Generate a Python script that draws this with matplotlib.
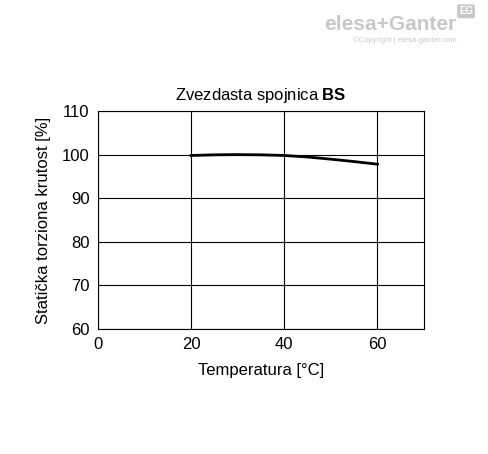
import matplotlib
matplotlib.use("Agg")
import matplotlib.pyplot as plt
import numpy as np

temps = [20, 25, 30, 35, 40, 45, 50, 55, 60]
stiffness = [99.8, 99.95, 100.0, 99.95, 99.8, 99.45, 98.95, 98.4, 97.8]
xticks = [0, 20, 40, 60]
yticks = [60, 70, 80, 90, 100, 110]

plt.rcParams['font.family'] = ['Liberation Sans', 'DejaVu Sans']
plt.rcParams['mathtext.fontset'] = 'custom'
plt.rcParams['mathtext.rm'] = 'Liberation Sans'
plt.rcParams['mathtext.bf'] = 'Liberation Sans:bold'
fig = plt.figure(figsize=(4.88, 4.54), dpi=100)
ax = fig.add_axes([0.2008, 0.2753, 0.668, 0.4802])
ax.plot(temps, stiffness, color='black', lw=2)
ax.set_xlim(0, 70)
ax.set_ylim(60, 110)
ax.set_xticks(xticks)
ax.set_yticks(yticks)
ax.grid(True, color='black', lw=0.8)
for s in ax.spines.values():
    s.set_linewidth(0.8)
ax.tick_params(length=0, labelsize=12, pad=6)
ax.set_xlabel('Temperatura [°C]', fontsize=12, labelpad=8)
ax.set_ylabel('Statička torziona krutost [%]', fontsize=12, labelpad=8)
ax.set_title('Zvezdasta spojnica $\\mathbf{BS}$', fontsize=12, pad=8)
fig.text(0.935, 0.945, 'elesa+Ganter', color='#c8c8c8', fontsize=15, fontweight='bold', ha='right', va='center')
fig.text(0.935, 0.912, '©Copyright | elesa-ganter.com', color='#c8c8c8', fontsize=5.5, ha='right', va='center')
fig.text(0.955, 0.975, 'EG', color='white', fontsize=7, fontweight='bold', ha='center', va='center',
         bbox=dict(boxstyle='round,pad=0.2', fc='#c8c8c8', ec='none'))
fig.savefig('out.png', dpi=100)
